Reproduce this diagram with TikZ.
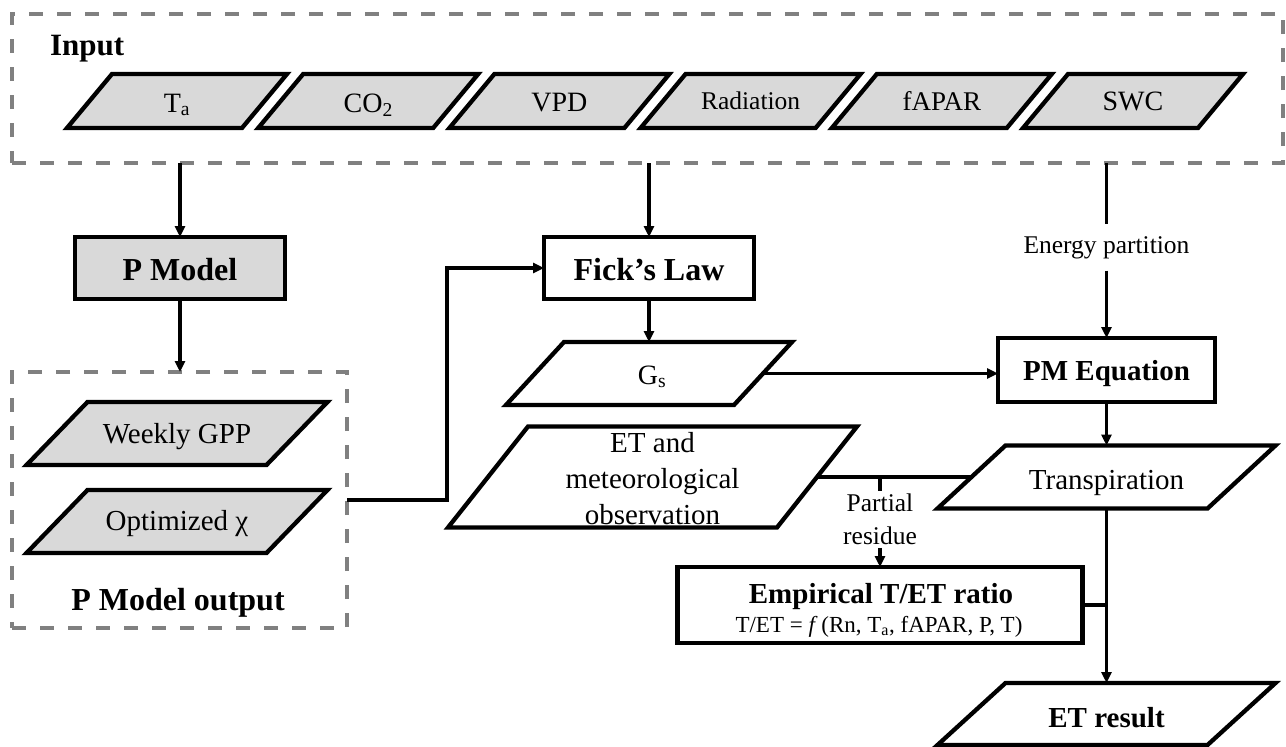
\documentclass[tikz,border=0pt]{standalone}
\usepackage{fontspec}
\setmainfont{Liberation Serif}
\usetikzlibrary{arrows.meta,backgrounds}
\definecolor{boxgray}{HTML}{D9D9D9}
\definecolor{dashgray}{HTML}{808080}
\newcommand{\fs}[1]{\fontsize{#1}{#1}\selectfont}
\newcommand{\drawpara}[3]{%
  \begin{scope}[on background layer]
    \draw[shp, fill=#3] ([xshift=#2/2]#1.north west) -- ([xshift=#2/2]#1.north east)
      -- ([xshift=-#2/2]#1.south east) -- ([xshift=-#2/2]#1.south west) -- cycle;
  \end{scope}}
\begin{document}
\begin{tikzpicture}[x=1pt,y=-1pt,
  shp/.style={draw=black, line width=4.3pt, line join=miter},
  boxnode/.style={shp, rectangle, inner sep=0pt, outer sep=0pt},
  pshape/.style={rectangle, inner sep=0pt, outer sep=0pt},
  dashbox/.style={rectangle, draw=dashgray, line width=3.8pt, dash pattern=on 14pt off 14pt, inner sep=0pt, outer sep=0pt},
  conn/.style={draw=black, line width=3.1pt},
  arr/.style={conn, -{Triangle[length=11pt,width=10pt]}},
  txt/.style={inner sep=0pt, outer sep=0pt, anchor=base},
]
\useasboundingbox (0,0) rectangle (1286,747);

% ---------- Input group ----------
\node[dashbox, minimum width=1271pt, minimum height=149pt] (inputbox) at (647.5,88.5) {};
\node[txt, font=\bfseries\fs{31}, anchor=base west] (t-input) at (50,55) {Input};

\node[pshape, minimum width=175pt, minimum height=54pt] (ta) at (177,101) {};
\drawpara{ta}{45}{boxgray}
\node[txt, font=\fs{28}] (t-ta) at (177,112) {T\textsubscript{a}};

\node[pshape, minimum width=175pt, minimum height=54pt] (co2) at (368.2,101) {};
\drawpara{co2}{45}{boxgray}
\node[txt, font=\fs{28}] (t-co2) at (368.2,112) {CO\textsubscript{2}};

\node[pshape, minimum width=175pt, minimum height=54pt] (vpd) at (559.4,101) {};
\drawpara{vpd}{45}{boxgray}
\node[txt, font=\fs{28}] (t-vpd) at (559.4,111) {VPD};

\node[pshape, minimum width=175pt, minimum height=54pt] (rad) at (750.6,101) {};
\drawpara{rad}{45}{boxgray}
\node[txt, font=\fs{25.5}] (t-rad) at (750.6,109) {Radiation};

\node[pshape, minimum width=175pt, minimum height=54pt] (fapar) at (941.8,101) {};
\drawpara{fapar}{45}{boxgray}
\node[txt, font=\fs{27}] (t-fapar) at (941.8,110) {fAPAR};

\node[pshape, minimum width=175pt, minimum height=54pt] (swc) at (1133,101) {};
\drawpara{swc}{45}{boxgray}
\node[txt, font=\fs{28}] (t-swc) at (1133,110) {SWC};

% ---------- P Model ----------
\node[boxnode, fill=boxgray, minimum width=210pt, minimum height=62pt] (pmodel) at (180,268) {};
\node[txt, font=\bfseries\fs{32}] (t-pmodel) at (180,280) {P Model};

\node[dashbox, minimum width=335pt, minimum height=256pt] (pmout) at (179.5,500) {};
\node[pshape, minimum width=240pt, minimum height=63pt] (gpp) at (177,433.5) {};
\drawpara{gpp}{61}{boxgray}
\node[txt, font=\fs{29}] (t-gpp) at (177,443) {Weekly GPP};
\node[pshape, minimum width=240pt, minimum height=63pt] (chi) at (177,521.5) {};
\drawpara{chi}{61}{boxgray}
\node[txt, font=\fs{29}] (t-chi) at (177,530) {Optimized χ};
\node[txt, font=\bfseries\fs{32}] (t-pmout) at (178,610) {P Model output};

% ---------- Fick / Gs ----------
\node[boxnode, fill=white, minimum width=210pt, minimum height=62pt] (fick) at (649,268) {};
\node[txt, font=\bfseries\fs{32}] (t-fick) at (649,280) {Fick’s Law};

\node[pshape, minimum width=228pt, minimum height=63pt] (gs) at (649,373.5) {};
\drawpara{gs}{58}{white}
\node[txt, font=\fs{28}] (t-gs) at (652,384) {G\textsubscript{s}};

\node[pshape, minimum width=329pt, minimum height=101pt] (etobs) at (652.5,477) {};
\drawpara{etobs}{80}{white}
\node[inner sep=0pt, outer sep=0pt, anchor=north, align=center, font=\fontsize{29}{36}\selectfont] (t-etobs) at (652.5,432.5) {ET and\\meteorological\\observation};

% ---------- PM equation side ----------
\node[boxnode, fill=white, minimum width=217pt, minimum height=64pt] (pmeq) at (1106.5,370) {};
\node[txt, font=\bfseries\fs{29}] (t-pmeq) at (1106.5,380) {PM Equation};

\node[txt, font=\fs{25.5}, inner ysep=12pt] (ep) at (1106.5,253) {Energy partition};

\node[pshape, minimum width=270pt, minimum height=63pt] (transp) at (1106.5,477) {};
\drawpara{transp}{68}{white}
\node[txt, font=\fs{29}] (t-transp) at (1106.5,489) {Transpiration};

\node[boxnode, fill=white, minimum width=405pt, minimum height=76pt] (emp) at (880,605) {};
\node[txt, font=\bfseries\fs{29}] (t-emp1) at (881,603) {Empirical T/ET ratio};
\node[txt, font=\fs{23}] (t-emp2) at (879,632) {T/ET = \textit{f}\,(Rn, T\textsubscript{a}, fAPAR, P, T)};

\node[txt, font=\fontsize{25.5}{33}\selectfont, align=center, anchor=north, inner ysep=3pt] (pr) at (880,491) {Partial\\residue};

\node[pshape, minimum width=270pt, minimum height=62pt] (etres) at (1106.5,714) {};
\drawpara{etres}{68}{white}
\node[txt, font=\bfseries\fs{29}] (t-etres) at (1106.5,727) {ET result};

% ---------- connectors ----------
\draw[arr] (pmodel.north |- inputbox.south) -- (pmodel.north);
\draw[arr] (pmodel.south) -- (pmodel.south |- pmout.north);
\coordinate (bend) at (447,500);
\draw[arr] (pmout.east) -- (bend) |- (fick.west);
\draw[arr] (fick.north |- inputbox.south) -- (fick.north);
\draw[arr] (fick.south) -- (gs.north);
\draw[arr] (gs.east) -- (gs.east -| pmeq.west);
\draw[conn] (pmeq.north |- inputbox.south) -- (ep.north);
\draw[arr] (ep.south) -- (pmeq.north);
\draw[arr] (pmeq.south) -- (transp.north);
\draw[conn] (etobs.east) -- (transp.west);
\coordinate (br) at (880,477);
\draw[conn] (br) -- (pr.north);
\draw[arr] (pr.south) -- (emp.north);
\draw[arr] (transp.south) -- (etres.north);
\draw[conn] (emp.east) -- (emp.east -| transp.south);
\end{tikzpicture}
\end{document}
